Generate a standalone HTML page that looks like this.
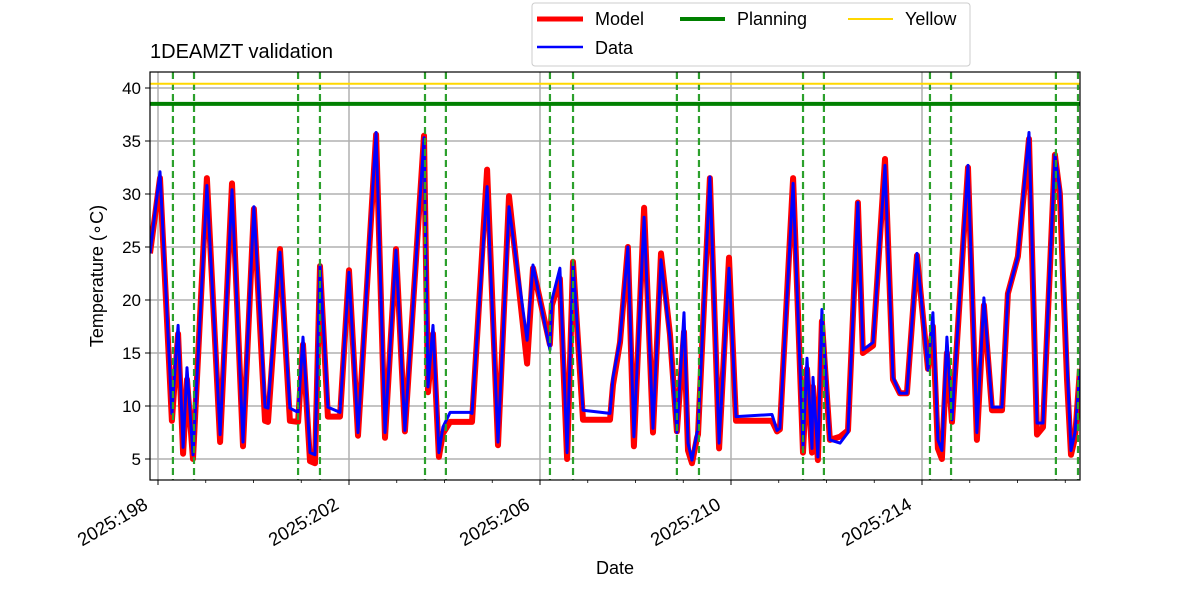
<!DOCTYPE html>
<html><head><meta charset="utf-8">
<style>
body{margin:0;background:#fff;}
svg text{font-family:"Liberation Sans","DejaVu Sans",sans-serif;fill:#000;}
</style></head>
<body>
<svg id="chart" width="1200" height="600" xmlns="http://www.w3.org/2000/svg"></svg>
<script>
// hours since 2025:198 00:00
const dataHours = [-4.0,1.0,7.0,10.1,12.6,14.6,17.6,24.6,31.2,37.2,42.7,48.2,53.8,55.3,61.3,66.3,70.4,72.9,76.4,78.9,81.4,85.4,91.5,96.0,100.5,109.6,114.1,119.6,124.1,133.7,135.7,138.2,141.2,143.2,146.8,156.8,157.8,165.4,170.9,176.4,185.5,188.5,197.0,198.0,202.0,205.6,208.6,213.6,227.2,228.7,232.2,236.2,239.2,244.3,248.8,252.8,257.3,260.8,264.4,266.4,268.4,270.9,271.4,277.4,282.0,287.0,290.5,308.6,311.1,312.6,319.2,324.2,326.2,328.7,329.2,331.7,333.7,337.7,342.8,346.8,351.8,354.3,359.4,365.4,369.4,372.9,376.4,381.5,387.0,389.5,392.0,394.0,396.5,399.1,407.1,411.6,415.1,419.2,424.2,427.2,432.2,437.8,441.8,444.8,450.8,453.3,456.9,458.9,460.9,463.4];
const dataValues = [24.4,32.1,9.3,17.6,6.1,13.6,5.4,30.8,7.3,30.4,6.6,28.8,9.9,9.8,24.5,9.8,9.4,16.5,5.6,5.4,23.3,9.9,9.4,22.6,7.5,35.8,7.5,24.7,7.7,35.3,11.8,17.6,5.6,8.0,9.4,9.4,9.3,30.7,6.6,28.8,16.2,23.3,15.3,20.0,23.0,5.6,23.5,9.6,9.3,12.7,16.2,25.0,7.1,27.8,7.9,23.8,16.5,7.5,18.8,6.5,4.9,7.5,7.7,31.6,6.5,23.0,9.0,9.2,7.7,7.9,31.0,6.0,14.5,6.0,12.7,5.2,19.1,6.8,6.5,7.5,29.2,15.3,16.0,32.7,12.7,11.2,11.2,24.4,13.4,18.8,6.8,5.8,16.5,8.7,32.7,7.5,20.2,9.9,9.9,20.6,24.1,35.8,8.4,8.4,33.7,30.4,14.1,5.8,7.5,13.4];
const modelValues = [24.4,31.5,8.6,16.8,5.5,12.5,5.0,31.5,6.6,31.0,6.2,28.6,8.6,8.5,24.8,8.6,8.5,15.8,4.8,4.6,23.2,9.0,9.0,22.8,7.2,35.6,7.0,24.8,7.6,35.5,11.3,16.8,5.2,7.4,8.5,8.5,8.5,32.3,6.3,29.8,14.0,23.0,15.8,19.5,22.0,5.0,23.6,8.7,8.7,12.0,16.0,25.0,6.2,28.7,7.5,24.4,16.8,7.6,17.0,5.8,4.6,7.0,7.3,31.5,6.0,24.0,8.6,8.6,7.6,7.8,31.5,5.6,13.5,5.6,11.8,4.9,18.0,6.8,7.1,7.7,29.2,15.0,15.7,33.3,12.5,11.2,11.2,24.2,13.5,17.5,6.0,5.0,15.0,8.5,32.5,6.8,19.5,9.6,9.6,20.6,24.1,35.2,7.3,8.0,33.7,30.0,12.5,5.4,7.0,13.5];
const vlineHours = [7.5,18.1,70.4,81.4,134.2,144.7,197.0,208.6,260.8,271.9,324.2,334.7,388.0,398.6,451.3,462.4];
const yTicks = [5,10,15,20,25,30,35,40];
const xTickDays = [198,202,206,210,214];
const planningLevel = 38.5;
const yellowLevel = 40.4;

const NS="http://www.w3.org/2000/svg";
const svg=document.getElementById('chart');
const L=150,R=1080,T=72,B=480;
const xS=h=>158+h*(47.75/24);
const yS=v=>459-(v-5)*10.6;
function mk(tag,attrs,parent){const e=document.createElementNS(NS,tag);for(const k in attrs)e.setAttribute(k,attrs[k]);(parent||svg).appendChild(e);return e;}

const defs=mk('defs',{});
const cp=mk('clipPath',{id:'plotclip'},defs);
mk('rect',{x:L,y:T,width:R-L,height:B-T},cp);

const grid=mk('g',{});


yTicks.forEach(v=>{
  const l=mk('line',{x1:L,x2:R,y1:yS(v),y2:yS(v),stroke:'#b0b0b0','stroke-width':1.5},grid);
  
  
  mk('line',{x1:L-5,x2:L,y1:yS(v),y2:yS(v),stroke:'#000','stroke-width':1});
  const t=mk('text',{x:L-9,y:yS(v)+6,'text-anchor':'end','font-size':17});
  t.textContent=v;
  
  
});
xTickDays.forEach(d=>{
  const x=xS((d-198)*24);
  const l=mk('line',{x1:x,x2:x,y1:T,y2:B,stroke:'#b0b0b0','stroke-width':1.5},grid);
  
  
  mk('line',{x1:x,x2:x,y1:B,y2:B+5,stroke:'#000','stroke-width':1});
  const t=mk('text',{x:x-9,y:B+28,'text-anchor':'end','font-size':18.5,transform:`rotate(-30 ${x-9} ${B+28})`});
  t.textContent='2025:'+d;
  
  
});
for(let d=198;d<=217;d++){const x=xS((d-198)*24);mk('line',{x1:x,x2:x,y1:B,y2:B+3,stroke:'#000','stroke-width':0.8});}

const plot=mk('g',{'clip-path':'url(#plotclip)'});



const pts=(vals)=>dataHours.map((h,i)=>xS(h).toFixed(1)+','+yS(vals[i]).toFixed(1)).join(' ');
const model=mk('polyline',{points:pts(modelValues),fill:'none',stroke:'#ff0000','stroke-width':6,'stroke-linejoin':'round'},plot);


const data=mk('polyline',{points:pts(dataValues),fill:'none',stroke:'#0000ff','stroke-width':3,'stroke-linejoin':'round'},plot);



vlineHours.forEach(h=>{
  const l=mk('line',{x1:xS(h),x2:xS(h),y1:T,y2:B,stroke:'#2ca02c','stroke-width':2.2,'stroke-dasharray':'7,4'},plot);
  
  
});
const pl=mk('line',{x1:L,x2:R,y1:yS(planningLevel),y2:yS(planningLevel),stroke:'#008000','stroke-width':4},plot);


const yl=mk('line',{x1:L,x2:R,y1:yS(yellowLevel),y2:yS(yellowLevel),stroke:'#ffd700','stroke-width':2},plot);



const frame=mk('rect',{x:L,y:T,width:R-L,height:B-T,fill:'none',stroke:'#000','stroke-width':1.2});


</script>
<svg style="position:absolute;left:0;top:0" width="1200" height="600" xmlns="http://www.w3.org/2000/svg">
<text x="150" y="58" font-size="20">1DEAMZT validation</text>
<text x="615" y="574" font-size="18" text-anchor="middle">Date</text>
<text x="103" y="276" font-size="18" text-anchor="middle" transform="rotate(-90 103 276)">Temperature (∘C)</text>
<g>
<rect x="532" y="3" width="438" height="63" rx="3" fill="#fff" stroke="#ccc" stroke-width="1"/>
<g><line x1="537" x2="583" y1="19" y2="19" stroke="#ff0000" stroke-width="5"/><text x="595" y="25" font-size="18">Model</text></g>
<g><line x1="537" x2="583" y1="47" y2="47" stroke="#0000ff" stroke-width="2.5"/><text x="595" y="54" font-size="18">Data</text></g>
<g><line x1="680" x2="725" y1="19" y2="19" stroke="#008000" stroke-width="4"/><text x="737" y="25" font-size="18">Planning</text></g>
<g><line x1="848" x2="893" y1="19" y2="19" stroke="#ffd700" stroke-width="2"/><text x="905" y="25" font-size="18">Yellow</text></g>
</g>
</svg>
</body></html>
